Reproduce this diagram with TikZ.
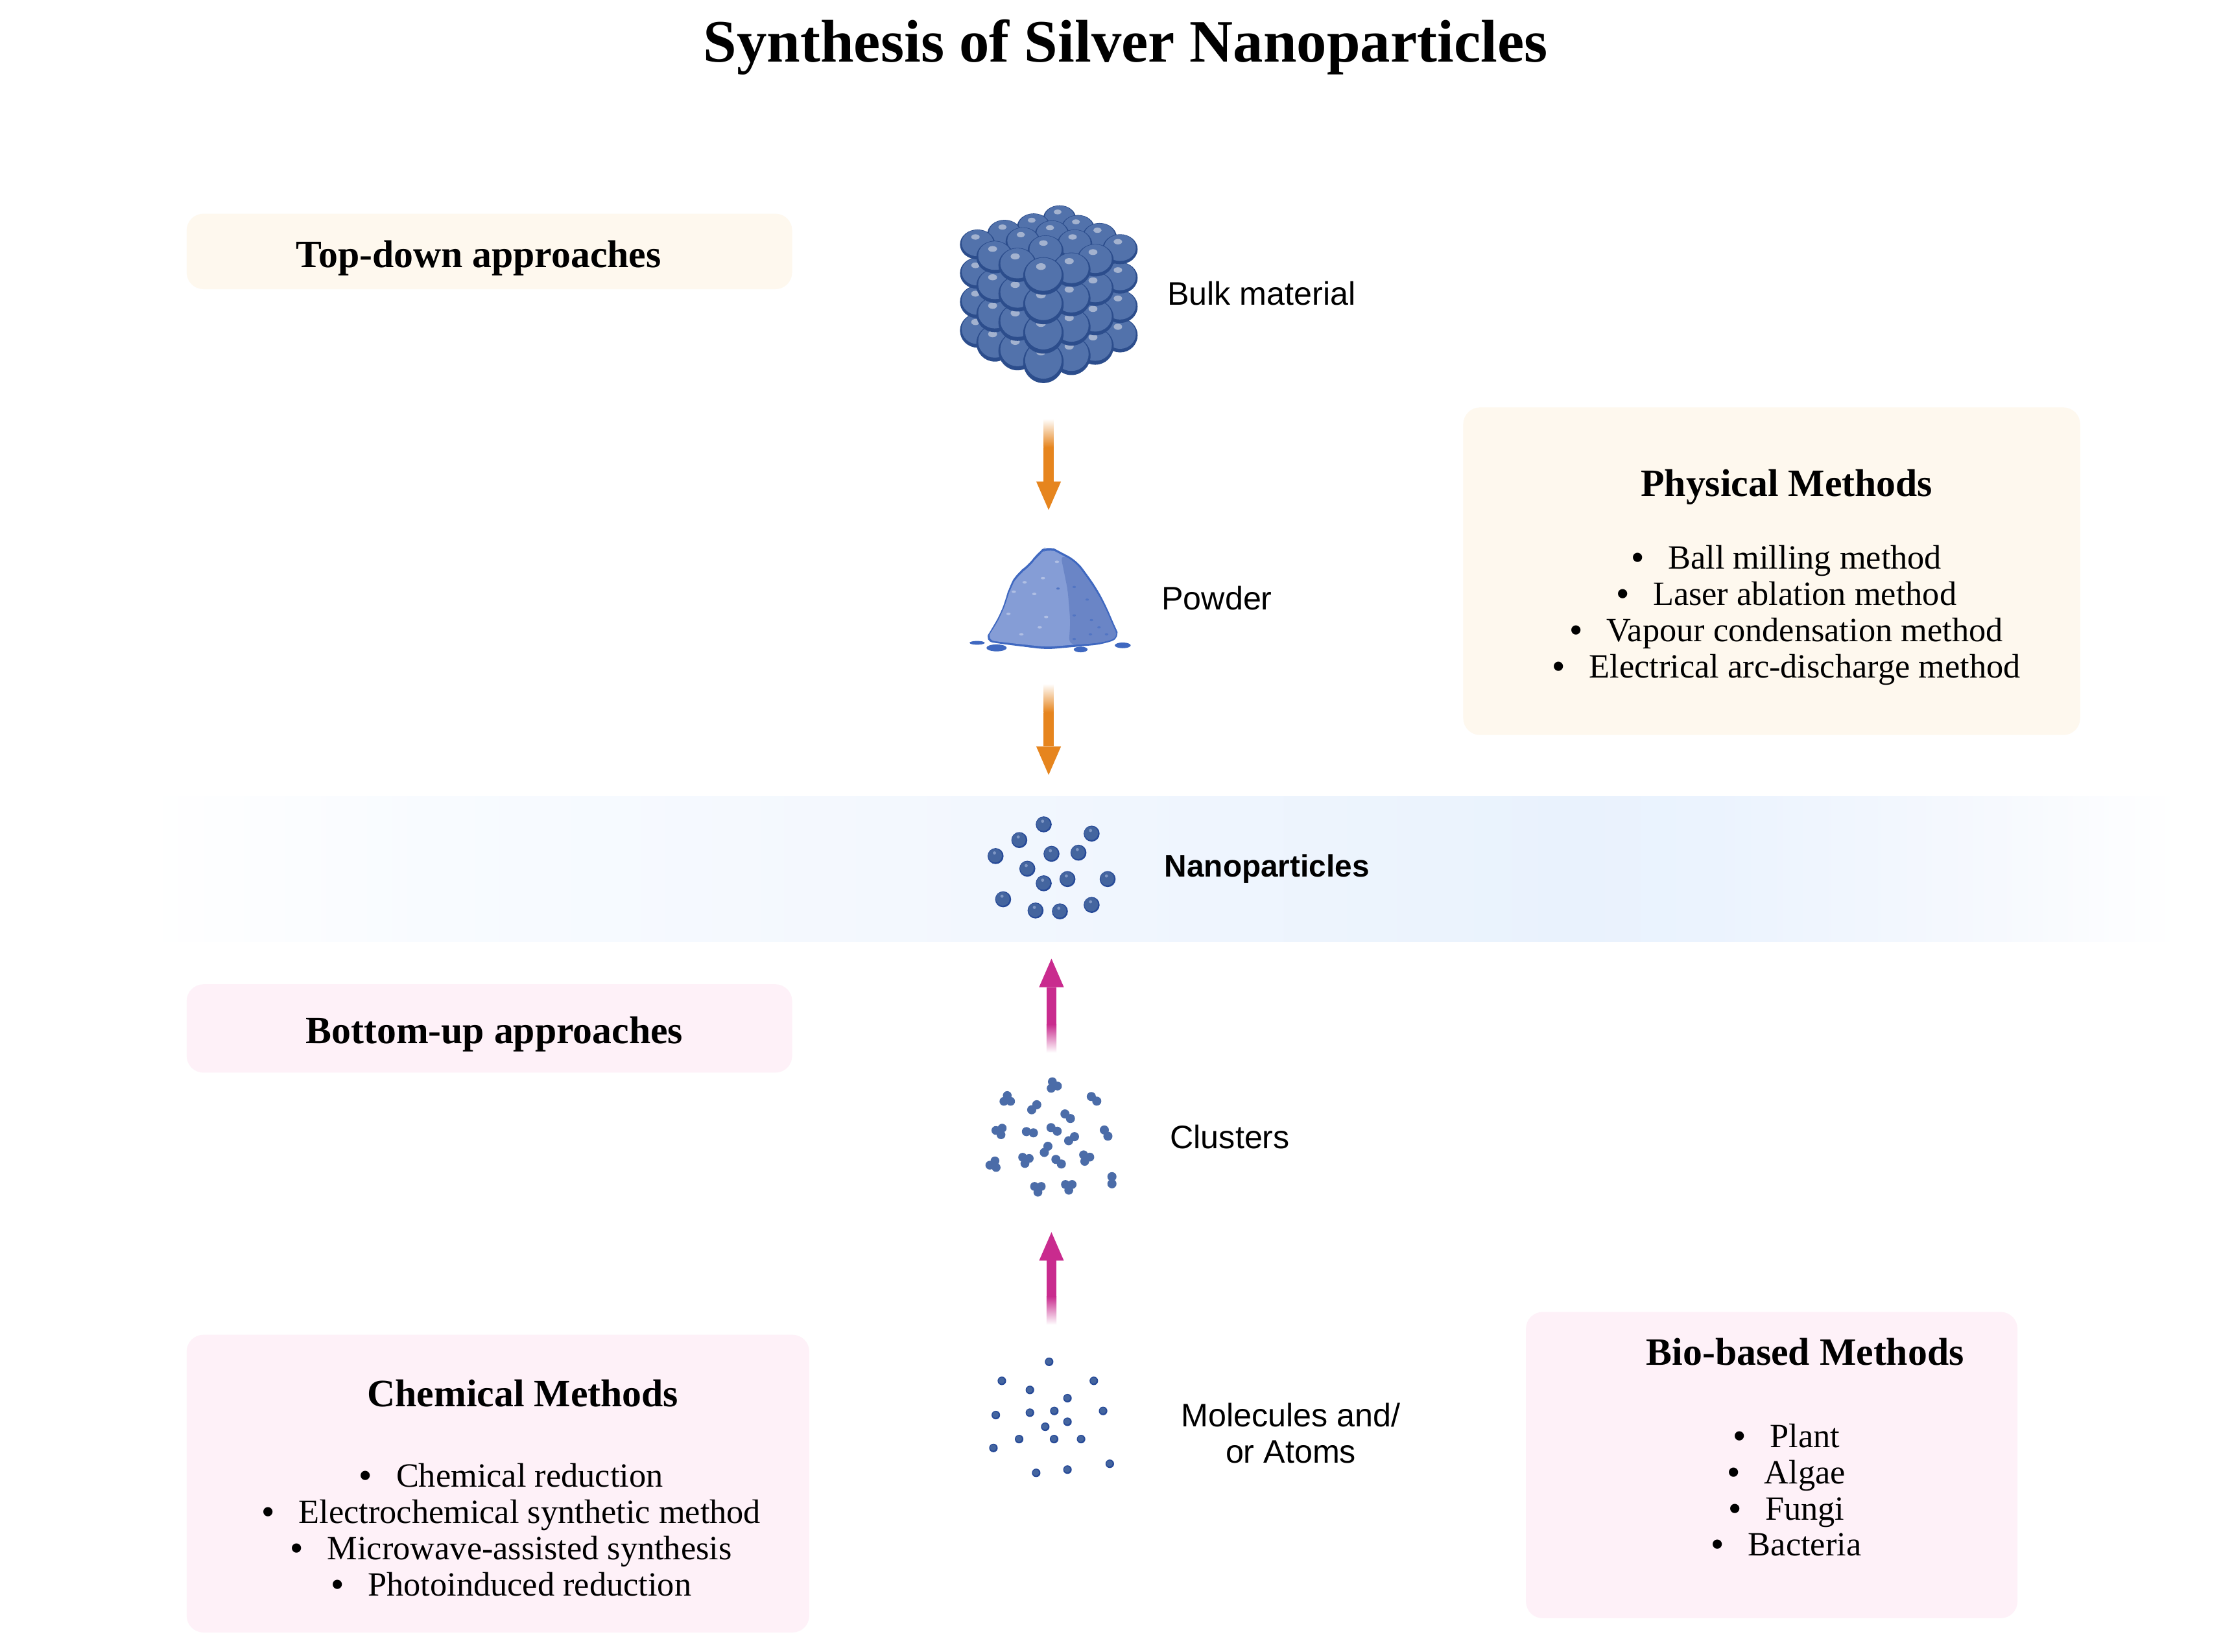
\documentclass[tikz,border=0pt]{standalone}
\usepackage{fontspec}
\setmainfont{Liberation Serif}
\setsansfont{Liberation Sans}
\usetikzlibrary{calc}
\definecolor{cream}{HTML}{FEF8EE}
\definecolor{pinkbox}{HTML}{FEF1F8}
\definecolor{orangearrow}{HTML}{E6851E}
\definecolor{magentaarrow}{HTML}{C92B8E}
\definecolor{ballrim}{HTML}{2C4D8C}
\definecolor{ballmid}{HTML}{5272AB}
\definecolor{ballhi}{HTML}{A3B2CF}
\definecolor{nanobase}{HTML}{44659F}
\definecolor{nanorim}{HTML}{274A98}
\definecolor{nanohi}{HTML}{7F97C4}
\definecolor{pilelight}{HTML}{859DD6}
\definecolor{piledark}{HTML}{6A85C6}
\definecolor{pileline}{HTML}{3F68C0}
\definecolor{bandA}{HTML}{F8FBFF}
\definecolor{bandB}{HTML}{F2F7FE}
\definecolor{bandC}{HTML}{E9F2FD}
\definecolor{bandD}{HTML}{EBF3FE}
\definecolor{bandE}{HTML}{F6F9FE}
\pgfdeclarehorizontalshading{bandshade}{100bp}{color(0bp)=(white); color(25bp)=(white); color(32bp)=(bandA); color(46bp)=(bandB); color(60bp)=(bandC); color(63.5bp)=(bandD); color(70.5bp)=(bandE); color(75bp)=(white); color(100bp)=(white)}
\newcommand{\bigball}[4]{% x, y, rx, ry
  \fill[ballrim] (#1,#2) ellipse[x radius=#3,y radius=#4];
  \fill[ballmid] (#1,#2-0.09*#4) ellipse[x radius=0.9*#3,y radius=0.88*#4];
  \fill[ballhi] (#1-0.12*#3,#2-0.5*#4) ellipse[x radius=0.24*#3,y radius=0.18*#4];
}
\newcommand{\gradarrow}[4]{% tail, tip, colour, direction (+1 = up page)
  \fill[#3] ($(#1)+(-3.5,-20*#4)$) rectangle ($(#2)+(3.5,20*#4)$);
  \fill[#3] ($(#2)+(-8.7,20*#4)$) -- (#2) -- ($(#2)+(8.7,20*#4)$) -- cycle;
}
\tikzset{
  panel/.style={rounded corners=2.6mm},
  headbig/.style={font=\fontsize{26.4}{30}\selectfont\bfseries,inner sep=0pt},
  headmid/.style={font=\fontsize{17}{20}\selectfont\bfseries,inner sep=0pt},
  bodytext/.style={font=\fontsize{14.9}{15.9}\selectfont,align=center,inner sep=0pt},
  sanslabel/.style={font=\fontsize{14.3}{15.9}\selectfont\sffamily,align=center,inner sep=0pt},
  sansbold/.style={font=\fontsize{13.6}{15.9}\selectfont\sffamily\bfseries,inner sep=0pt},
  pileframe/.style={shift={(637.4,126.3)},x=0.003328cm,y=-0.004866cm},
}
\newcommand{\bul}{{\sffamily\textbullet}\hspace{0.72em}}
\begin{document}
\begin{tikzpicture}[x=0.02197cm,y=-0.02197cm]
\useasboundingbox (0,0) rectangle (1568,1159.3);
\fill[white] (0,0) rectangle (1568,1159.3);
% band
\shade[shading=bandshade] (100,559) rectangle (1530,661);
% panels
\fill[cream,panel] (131,150) rectangle (556,203);
\fill[cream,panel] (1027,286) rectangle (1460,516);
\fill[pinkbox,panel] (131,691) rectangle (556,753);
\fill[pinkbox,panel] (131,937) rectangle (568,1146);
\fill[pinkbox,panel] (1071,921) rectangle (1416,1136);
% title and panel text
\node[headbig] (title) at (790,33) {Synthesis of Silver Nanoparticles};
\node[headmid] (topdown) at (336,181) {Top-down approaches};
\node[headmid] (bottomup) at (347,726) {Bottom-up approaches};
\node[headmid] (physh) at (1254,342) {Physical Methods};
\node[bodytext] (physb) at (1254,432) {\bul Ball milling method\\\bul Laser ablation method\\\bul Vapour condensation method\\\bul Electrical arc-discharge method};
\node[headmid] (chemh) at (367,978) {Chemical Methods};
\node[bodytext] (chemb) at (359,1074) {\bul Chemical reduction\\\bul Electrochemical synthetic method\\\bul Microwave-assisted synthesis\\\bul Photoinduced reduction};
\node[headmid] (bioh) at (1267,949) {Bio-based Methods};
\node[bodytext] (biob) at (1254,1046) {\bul Plant\\\bul Algae\\\bul Fungi\\\bul Bacteria};
% side labels
\node[sanslabel,anchor=west] (lbulk) at (819,206) {Bulk material};
\node[sanslabel,anchor=west] (lpowder) at (815,420) {Powder};
\node[sansbold,anchor=west] (lnano) at (817,610) {Nanoparticles};
\node[sanslabel,anchor=west] (lclusters) at (821,798) {Clusters};
\node[sanslabel] (latoms) at (906,1006) {Molecules and/\\or Atoms};
% bulk cube
\foreach \L in {3,2,1,0}{
  \foreach \zx/\zy/\r in {695/118/11.2,780/150/11.4,880/178/11.8,975/215/12,
                          575/145/11.4,660/170/11.8,765/200/12,860/250/12.6,
                          440/168/11.8,525/192/11.8,630/220/12.2,750/280/13,
                          315/200/12,395/240/12.6,500/265/13,620/300/13.8}{
    \pgfmathsetmacro{\bx}{638.4+\zx*0.1515}
    \pgfmathsetmacro{\by}{127.3+(\zy+\L*91)*0.2215}
    \pgfmathsetmacro{\brx}{\r*1.03}
    \pgfmathsetmacro{\bry}{1.5*\r-7.5+\L*0.5}
    \bigball{\bx}{\by}{\brx}{\bry}
  }
}
% powder pile
\begin{scope}[pileframe]
  \fill[pileline,rounded corners=4pt] (352,1462) -- (390,1420) -- (428,1375) -- (452,1330) -- (468,1290) -- (505,1245) -- (560,1220) -- (600,1180) -- (650,1158) -- (710,1180) -- (780,1205) -- (830,1250) -- (880,1300) -- (925,1360) -- (955,1410) -- (985,1452) -- (900,1472) -- (640,1488) -- (450,1472) -- cycle;
  \fill[pilelight,rounded corners=4pt] (360,1458) -- (398,1420) -- (434,1375) -- (459,1330) -- (474,1294) -- (510,1252) -- (565,1226) -- (604,1188) -- (650,1166) -- (706,1186) -- (774,1211) -- (824,1256) -- (874,1306) -- (919,1364) -- (949,1414) -- (975,1450) -- (898,1466) -- (640,1480) -- (452,1466) -- cycle;
  \fill[piledark,rounded corners=3pt] (706,1186) -- (774,1211) -- (824,1256) -- (874,1306) -- (919,1364) -- (949,1414) -- (975,1450) -- (898,1466) -- (745,1474) -- (752,1400) -- (740,1300) -- cycle;
  \fill[pileline] (320,1467) ellipse[x radius=35,y radius=6];
  \fill[pileline] (410,1483) ellipse[x radius=47,y radius=11];
  \fill[pileline] (800,1488) ellipse[x radius=32,y radius=9];
  \fill[pileline] (995,1475) ellipse[x radius=37,y radius=9];
  \foreach \zx/\zy in {540/1275,625/1262,490/1305,585/1312,465/1375,640/1385,610/1418,525/1440,690/1210}
    \fill[white!35!pilelight] (\zx,\zy) ellipse[x radius=10,y radius=4];
  \foreach \zx/\zy in {770/1290,830/1330,850/1395,885/1418,770/1380,845/1440,920/1440,770/1455,695/1295}
    \fill[pileline!55!piledark] (\zx,\zy) ellipse[x radius=8,y radius=3.5];
\end{scope}
% nanoparticles
\foreach \zx/\zy in {479/95,701/128,366/151,256/208,515/200,640/196,403/253,479/305,589/290,775/290,291/362,441/402,554/405,701/382}{
  \fill[nanorim] ({660+\zx*0.1515},{560+\zy*0.197}) circle[radius=5.6];
  \fill[nanobase] ({660+\zx*0.1515-0.3},{560+\zy*0.197-0.3}) circle[radius=4.8];
  \fill[nanohi] ({660+\zx*0.1515-0.8},{560+\zy*0.197-2.2}) circle[radius=1.1];
}
% clusters: x, y, angle, number of balls
\foreach \zx/\zy/\a/\n in {525/1025/10/3,310/1075/30/3,435/1103/-45/2,712/1073/40/2,590/1135/40/2,275/1188/70/3,415/1192/10/2,527/1182/30/2,608/1215/-35/2,768/1195/60/2,490/1253/-60/2,395/1290/-20/3,548/1297/40/2,675/1283/-10/3,247/1307/50/3,452/1392/90/3,595/1385/-30/3,795/1363/90/2}{
  \pgfmathsetmacro{\cx}{660+\zx*0.1515}
  \pgfmathsetmacro{\cy}{560+\zy*0.197}
  \ifnum\n=2
    \fill[ballmid!85!nanorim] ({\cx+2.5*cos(\a)},{\cy+2.5*sin(\a)}) circle[radius=3.2];
    \fill[ballmid!85!nanorim] ({\cx-2.5*cos(\a)},{\cy-2.5*sin(\a)}) circle[radius=3.2];
  \else
    \fill[ballmid!85!nanorim] ({\cx+2.7*cos(\a)},{\cy+2.7*sin(\a)}) circle[radius=3.1];
    \fill[ballmid!85!nanorim] ({\cx+2.7*cos(\a+120)},{\cy+2.7*sin(\a+120)}) circle[radius=3.1];
    \fill[ballmid!85!nanorim] ({\cx+2.7*cos(\a+240)},{\cy+2.7*sin(\a+240)}) circle[radius=3.1];
  \fi
}
% molecules / atoms
\foreach \zx/\zy in {504/750,285/838,711/838,415/880,589/918,257/996,415/985,528/977,754/977,589/1027,486/1050,365/1107,527/1107,652/1107,246/1148,444/1263,589/1248,785/1221}{
  \fill[nanorim] ({660+\zx*0.1515},{842+\zy*0.152}) circle[radius=3];
  \fill[nanobase] ({660+\zx*0.1515-0.2},{842+\zy*0.152-0.2}) circle[radius=2.2];
}
% arrows
\coordinate (arrAtail) at (736,294);
\coordinate (arrAtip) at (736,358);
\coordinate (arrBtail) at (736,480);
\coordinate (arrBtip) at (736,544);
\coordinate (arrCtail) at (738,739);
\coordinate (arrCtip) at (738,673);
\coordinate (arrDtail) at (738,930);
\coordinate (arrDtip) at (738,865);
\gradarrow{arrAtail}{arrAtip}{orangearrow}{-1}
\shade[top color=white,bottom color=orangearrow] ($(arrAtail)+(-3.5,0)$) rectangle ($(arrAtail)+(3.5,20)$);
\gradarrow{arrBtail}{arrBtip}{orangearrow}{-1}
\shade[top color=white,bottom color=orangearrow] ($(arrBtail)+(-3.5,0)$) rectangle ($(arrBtail)+(3.5,20)$);
\gradarrow{arrCtail}{arrCtip}{magentaarrow}{1}
\shade[bottom color=white,top color=magentaarrow] ($(arrCtail)+(-3.5,0)$) rectangle ($(arrCtail)+(3.5,-20)$);
\gradarrow{arrDtail}{arrDtip}{magentaarrow}{1}
\shade[bottom color=white,top color=magentaarrow] ($(arrDtail)+(-3.5,0)$) rectangle ($(arrDtail)+(3.5,-20)$);
\end{tikzpicture}
\end{document}
